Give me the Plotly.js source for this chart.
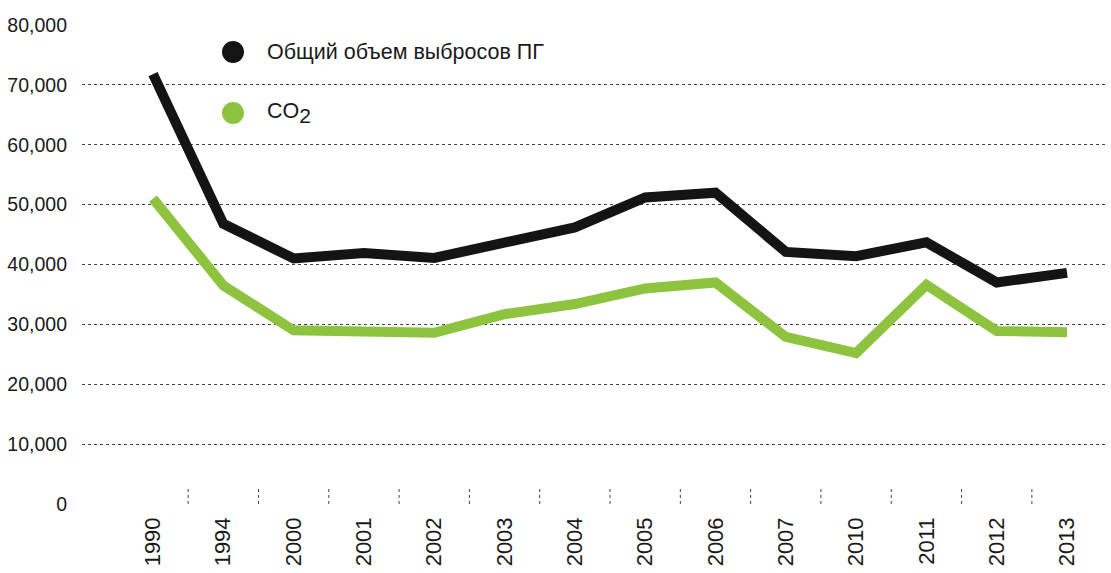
<!DOCTYPE html>
<html><head><meta charset="utf-8">
<script src="https://cdn.plot.ly/plotly-3.0.1.min.js"></script>
<style>html,body{margin:0;padding:0;background:#fff}#chart{width:1111px;height:573px}</style>
</head><body><div id="chart"></div>
<script>
const years = ['1990','1994','2000','2001','2002','2003','2004','2005','2006','2007','2010','2011','2012','2013'];
const totalGHG = [71800,46800,41000,41900,41100,43800,46200,51200,52000,42100,41400,43700,37000,38600];
const co2 = [51000,36500,29000,28900,28600,31700,33400,36000,37000,27900,25200,36600,28900,28700];
const yTicks = [0,10000,20000,30000,40000,50000,60000,70000,80000];
const yTickText = ['0','10,000','20,000','30,000','40,000','50,000','60,000','70,000','80,000'];
const seriesNames = ['Общий объем выбросов ПГ',"CO<sub><span style='font-size:21px'>2</span></sub>"];
const colors = ['#141414','#8dc33f'];

const font = '"Liberation Sans", Arial, sans-serif';
const traces = [
  {x: years, y: co2, type:'scatter', mode:'lines', line:{color:colors[1], width:10}, hoverinfo:'skip'},
  {x: years, y: totalGHG, type:'scatter', mode:'lines', line:{color:colors[0], width:10}, hoverinfo:'skip'}
];

const shapes = [];
for (let i = 0; i < years.length - 1; i++) {
  shapes.push({type:'line', xref:'x', yref:'y', x0:i+0.5, x1:i+0.5,
    ysizemode:'pixel', yanchor:0, y0:0, y1:16, line:{color:'#444', width:1, dash:'dot'}});
}
const legendY = [0.9436, 0.8163];
seriesNames.forEach((n, k) => {
  shapes.push({type:'circle', xref:'paper', yref:'paper', xsizemode:'pixel', ysizemode:'pixel',
    xanchor:0.1476, yanchor:legendY[k], x0:-11, x1:11, y0:-11, y1:11,
    fillcolor:colors[k], line:{width:0}});
});
const annotations = seriesNames.map((n, k) => ({
  xref:'paper', yref:'paper', x:0.179, y:legendY[k], xanchor:'left', yanchor:'middle',
  text:n, showarrow:false, font:{family:font, size:21.5, color:'#1a1a1a'}
}));

const layout = {
  width:1111, height:573,
  margin:{l:82, r:6, t:25, b:69},
  paper_bgcolor:'#fff', plot_bgcolor:'#fff',
  showlegend:false,
  xaxis:{type:'category', range:[-1.01,13.54], showgrid:false, zeroline:false, showline:false,
    ticks:'', tickangle:-90, tickfont:{family:font, size:22, color:'#1a1a1a'}, ticklabelstandoff:8, fixedrange:true},
  yaxis:{range:[0,80000], tickvals:yTicks, ticktext:yTickText, showgrid:true, gridcolor:'#444',
    griddash:'dot', gridwidth:1, zeroline:false, showline:false, ticks:'',
    tickfont:{family:font, size:19.5, color:'#1a1a1a'}, ticklabelstandoff:14, fixedrange:true},
  shapes:shapes, annotations:annotations
};
Plotly.newPlot('chart', traces, layout, {displayModeBar:false, staticPlot:true});
</script></body></html>
